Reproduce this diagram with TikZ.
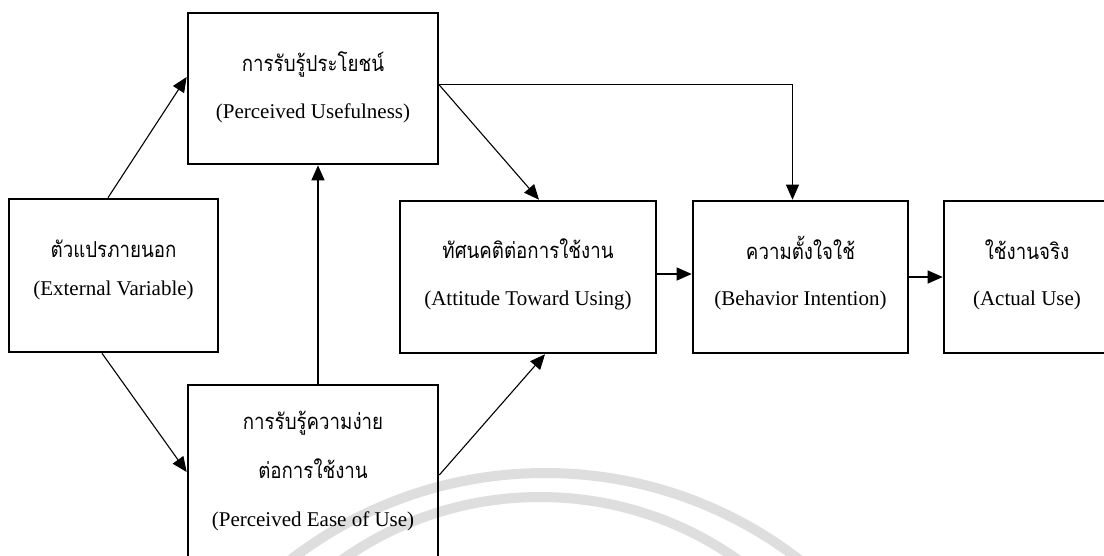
\documentclass[tikz,border=0pt]{standalone}
\usepackage{fontspec}
\setmainfont{Liberation Serif}
\newfontfamily\thaifont[Script=Thai, FakeStretch=0.85]{Loma}
\usetikzlibrary{arrows.meta}

\tikzset{
  box/.style={draw=black, line width=2.6pt, rectangle, inner sep=0pt},
  thtxt/.style={anchor=base, inner sep=0pt, font=\thaifont\fontsize{22}{26}\selectfont},
  entxt/.style={anchor=base, inner sep=0pt, font=\fontsize{21}{24}\selectfont},
  arr/.style={draw=black, line width=1.1pt, -{Triangle[length=15pt,width=13pt]}},
  wm/.style={draw=black!13, line width=10pt}
}

\begin{document}
\begin{tikzpicture}[x=1pt, y=-1pt]
  \useasboundingbox (0,0) rectangle (1104,555);

  % faint watermark arcs in the lower half
  \begin{scope}
    \clip (0,0) rectangle (1104,555);
    \draw[wm] (545,889) circle (416);
    \draw[wm] (540,840) circle (343);
  \end{scope}

  % boxes
  \node[box, minimum width=209pt, minimum height=153pt] (ev)   at (113.5,275.5) {};
  \node[box, minimum width=250pt, minimum height=151pt] (pu)   at (313,88.5) {};
  \node[box, minimum width=250pt, minimum height=215pt] (peou) at (313,492.5) {};
  \node[box, minimum width=256pt, minimum height=152pt] (atu)  at (528,277) {};
  \node[box, minimum width=215pt, minimum height=152pt] (bi)   at (800.5,277) {};
  \node[box, minimum width=171pt, minimum height=152pt] (au)   at (1029.5,277) {};

  % labels
  \node[thtxt] (pu-th) at (313,71)  {การรับรู้ประโยชน์};
  \node[entxt] (pu-en) at (313,118) {(Perceived Usefulness)};

  \node[thtxt] (ev-th) at (113.5,257) {ตัวแปรภายนอก};
  \node[entxt] (ev-en) at (113.5,295) {(External Variable)};

  \node[thtxt] (peou-th1) at (313,429) {การรับรู้ความง่าย};
  \node[thtxt] (peou-th2) at (313,478) {ต่อการใช้งาน};
  \node[entxt] (peou-en)  at (313,526) {(Perceived Ease of Use)};

  \node[thtxt] (atu-th) at (528,258) {ทัศนคติต่อการใช้งาน};
  \node[entxt] (atu-en) at (528,305) {(Attitude Toward Using)};

  \node[thtxt] (bi-th) at (800.5,259) {ความตั้งใจใช้};
  \node[entxt] (bi-en) at (800.5,305) {(Behavior Intention)};

  \node[thtxt] (au-th) at (1027,259) {ใช้งานจริง};
  \node[entxt] (au-en) at (1027,305) {(Actual Use)};

  % connectors
  \draw[arr] ([xshift=-5.5pt]ev.north) -- ([yshift=11.5pt]pu.west);
  \draw[arr] ([xshift=-11.5pt]ev.south) -- ([yshift=20.5pt]peou.west);
  \draw[arr] ([xshift=5pt]peou.north) -- ([xshift=5pt]pu.south);
  \draw[arr] ([yshift=3.5pt]pu.east) -- ([xshift=11pt]atu.north);
  \draw[arr] ([yshift=4pt]pu.east) -| ([xshift=-8pt]bi.north);
  \draw[arr] ([yshift=17.5pt]peou.east) -- ([xshift=17pt]atu.south);
  \draw[arr] ([yshift=3pt]atu.east) -- ([yshift=3pt]bi.west);
  \draw[arr] (bi.east) -- (au.west);
\end{tikzpicture}
\end{document}
